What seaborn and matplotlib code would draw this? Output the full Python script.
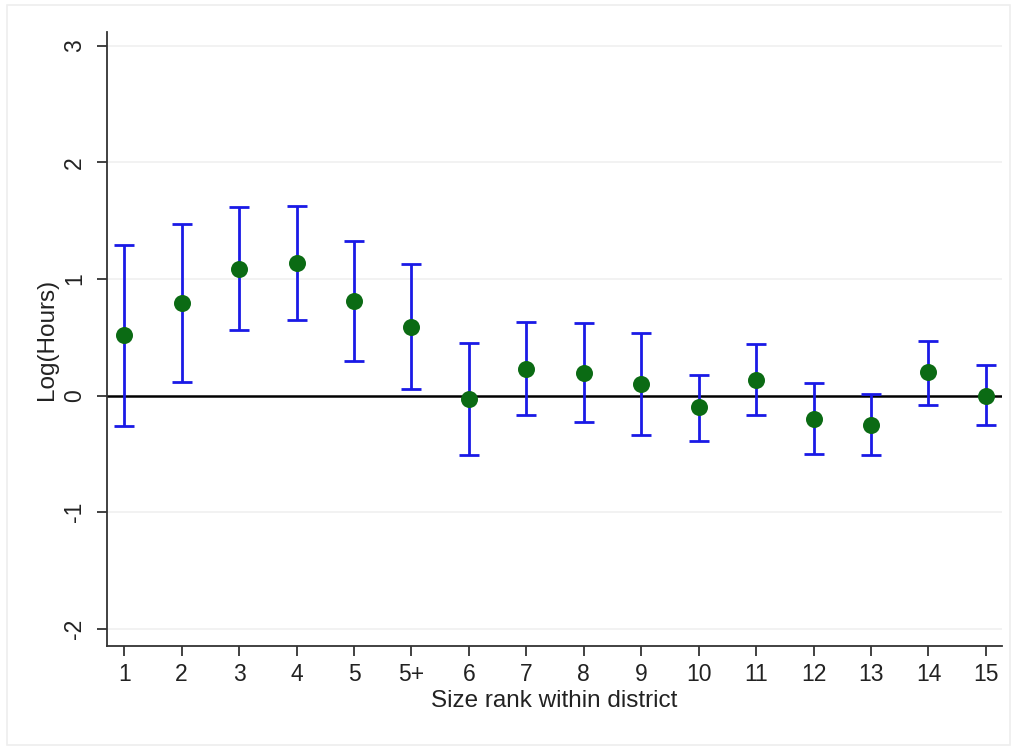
import matplotlib
matplotlib.use("Agg")
import matplotlib.pyplot as plt
import pandas as pd
import seaborn as sns

# size rank categories and estimates with confidence bounds
ranks = ["1", "2", "3", "4", "5", "5+", "6", "7", "8", "9", "10", "11", "12", "13", "14", "15"]
coef = [0.52, 0.79, 1.09, 1.14, 0.81, 0.59, -0.03, 0.23, 0.19, 0.10, -0.10, 0.13, -0.20, -0.25, 0.20, 0.00]
upper = [1.29, 1.47, 1.62, 1.63, 1.33, 1.13, 0.45, 0.63, 0.62, 0.54, 0.18, 0.44, 0.11, 0.01, 0.47, 0.26]
lower = [-0.26, 0.12, 0.56, 0.65, 0.30, 0.06, -0.51, -0.17, -0.23, -0.34, -0.39, -0.17, -0.50, -0.51, -0.08, -0.25]
yticks = [-2, -1, 0, 1, 2, 3]

df = pd.DataFrame({"rank": ranks, "coef": coef, "upper": upper, "lower": lower})
df["pos"] = range(len(df))

sns.set_style("white")
plt.rcParams['font.family'] = ['Liberation Sans', 'DejaVu Sans']

fig = plt.figure(figsize=(10.15, 7.48), dpi=100)
ax = fig.add_axes([107 / 1015, 1 - 646 / 748, (1002 - 107) / 1015, (646 - 32) / 748])

# light outer frame like the original export
fig.patches.append(plt.Rectangle((7 / 1015, 3 / 748), 1003 / 1015, 740 / 748,
                                 transform=fig.transFigure, fill=False,
                                 edgecolor="#eeeeee", linewidth=1.2))

for y in yticks:
    if y != 0:
        ax.axhline(y, color="#f0f0f0", linewidth=1.2, zorder=0)
ax.axhline(0, color="black", linewidth=1.8, zorder=1)

ax.errorbar(df["pos"], df["coef"],
            yerr=[df["coef"] - df["lower"], df["upper"] - df["coef"]],
            fmt="none", ecolor="#1a1ae6", elinewidth=2, capsize=7, capthick=2, zorder=2)
sns.scatterplot(data=df, x="pos", y="coef", ax=ax, color="#0b6b14", s=150,
                edgecolor="#0b6b14", linewidth=0, zorder=3)

ax.set_xlim(-0.3, 15.28)
ax.set_ylim(-2.15, 3.12)
ax.set_xticks(df["pos"])
ax.set_xticklabels(ranks)
ax.set_yticks(yticks)
ax.set_yticklabels([str(v) for v in yticks], rotation=90, va="center")

for side in ["top", "right"]:
    ax.spines[side].set_visible(False)
for side in ["left", "bottom"]:
    ax.spines[side].set_color("#333333")
    ax.spines[side].set_linewidth(1.3)

ax.tick_params(axis="both", direction="out", length=7, width=1.3, color="#333333",
               labelsize=16.5, labelcolor="#222222", left=True, bottom=True)
ax.tick_params(axis="y", pad=8)
ax.tick_params(axis="x", pad=5)

ax.set_xlabel("Size rank within district", fontsize=17.5, color="#222222", labelpad=3)
ax.set_ylabel("Log(Hours)", fontsize=17.5, color="#222222", labelpad=4)

fig.savefig("out.png", dpi=100)
